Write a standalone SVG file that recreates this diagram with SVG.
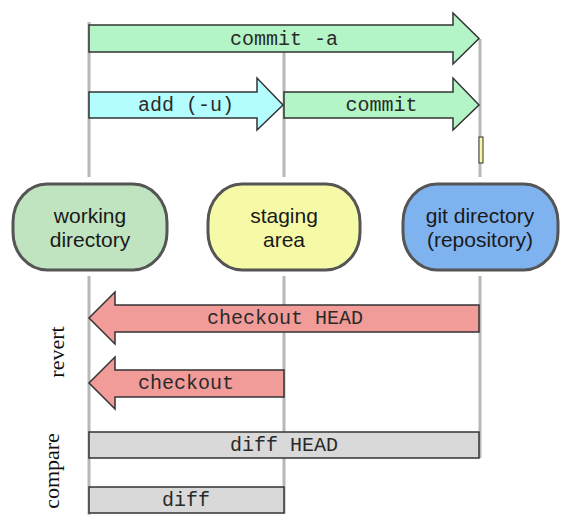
<svg xmlns="http://www.w3.org/2000/svg" width="570" height="520" viewBox="0 0 570 520">
<style>
.lane{stroke:#b8b8b8;stroke-width:3;fill:none}
.arr{stroke:#333;stroke-width:1.5;stroke-linejoin:miter}
.g{fill:#b3f5c6}
.c{fill:#b3fdff}
.r{fill:#f29c9a}
.d{fill:#d9d9d9}
.cmd{font-family:"Liberation Mono","Courier New",monospace;font-size:20px;fill:#2a2a2a;text-anchor:middle}
.node{stroke:#555;stroke-width:3}
.nt{font-family:"Liberation Sans",Arial,sans-serif;font-size:21px;fill:#1a1a1a;text-anchor:middle}
.side{font-family:"Liberation Serif","Times New Roman",serif;font-size:22px;fill:#111;text-anchor:middle}
</style>
<rect width="570" height="520" fill="#fff"/>
<g id="connectors">
<path class="lane" d="M89,22V177M89,276V515M284,52V177M284,276V514M480,39V177M480,276V458"/>
<rect x="479" y="137" width="4" height="26" fill="#f7f7a8" stroke="#333" stroke-width="1"/>
<g id="commit-a"><path class="arr g" d="M89,25H453V13L479,38.5L453,64V52H89Z"/><text class="cmd" x="284" y="45">commit -a</text></g>
<g id="add"><path class="arr c" d="M89,92H257V78L283,105L257,130V118H89Z"/><text class="cmd" x="186" y="110.5">add (-u)</text></g>
<g id="commit"><path class="arr g" d="M284,92H453V78L479,105L453,130V118H284Z"/><text class="cmd" x="381.5" y="110.5">commit</text></g>
<g id="checkout-head"><path class="arr r" d="M479,305H115V292L89,318L115,344V332H479Z"/><text class="cmd" x="285" y="324">checkout HEAD</text></g>
<g id="checkout"><path class="arr r" d="M284,370H115V357L89,383L115,409V397H284Z"/><text class="cmd" x="186" y="389">checkout</text></g>
<g id="diff-head"><rect class="arr d" x="89" y="432" width="390" height="26"/><text class="cmd" x="284" y="450.5">diff HEAD</text></g>
<g id="diff"><rect class="arr d" x="89" y="487" width="195" height="26"/><text class="cmd" x="186" y="505.5">diff</text></g>
</g>
<g id="working">
<rect class="node" x="13" y="184" width="154" height="86" rx="34" ry="38" fill="#c0e4bf"/>
<text class="nt" x="90" y="223">working</text><text class="nt" x="90" y="247">directory</text>
</g>
<g id="staging">
<rect class="node" x="208" y="184" width="152" height="86" rx="34" ry="38" fill="#f6faa6"/>
<text class="nt" x="284" y="223">staging</text><text class="nt" x="284" y="247">area</text>
</g>
<g id="git">
<rect class="node" x="403" y="184" width="155" height="86" rx="34" ry="38" fill="#7fb3f0"/>
<text class="nt" x="480" y="223">git directory</text><text class="nt" x="480" y="247">(repository)</text>
</g>
<text class="side" transform="translate(64,352) rotate(-90)">revert</text>
<text class="side" transform="translate(59,471) rotate(-90)">compare</text>
</svg>
